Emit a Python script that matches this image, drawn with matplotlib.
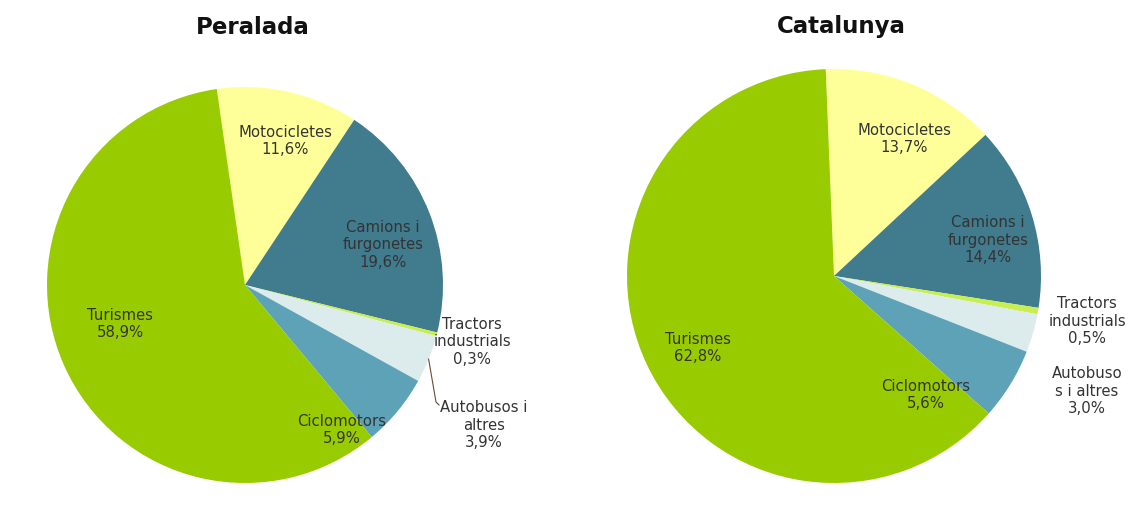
import matplotlib
matplotlib.use("Agg")
import matplotlib.pyplot as plt
import numpy as np

plt.rcParams['font.family'] = ['DejaVu Sans']

# ---- data ----
titles = ["Peralada", "Catalunya"]
categories = ["Motocicletes", "Camions i furgonetes", "Tractors industrials",
              "Autobusos i altres", "Ciclomotors", "Turismes"]
peralada = [11.6, 19.6, 0.3, 3.9, 5.9, 58.9]
catalunya = [13.7, 14.4, 0.5, 3.0, 5.6, 62.8]
peralada_labels = ["Motocicletes\n11,6%", "Camions i\nfurgonetes\n19,6%",
                   "Tractors\nindustrials\n0,3%", "Autobusos i\naltres\n3,9%",
                   "Ciclomotors\n5,9%", "Turismes\n58,9%"]
catalunya_labels = ["Motocicletes\n13,7%", "Camions i\nfurgonetes\n14,4%",
                    "Tractors\nindustrials\n0,5%", "Autobuso\ns i altres\n3,0%",
                    "Ciclomotors\n5,6%", "Turismes\n62,8%"]

# ---- style / layout ----
colors = ["#FFFF99", "#407B8E", "#C8EE50", "#DCEBEB", "#5DA2B6", "#99CC00"]
W, H = 1132, 515
pies = [
    dict(cx=245, cy=285, r=198, start=98.2, title_x=253),
    dict(cx=834, cy=276, r=207, start=92.3, title_x=841),
]
label_px = [
    [(285, 141), (383, 245), (472, 342), (484, 425), (342, 430), (120, 324)],
    [(904, 139), (988, 240), (1087, 321), (1087, 391), (926, 395), (698, 348)],
]

fig = plt.figure(figsize=(W / 100, H / 100), dpi=100)
fig.patch.set_facecolor("white")

datasets = [peralada, catalunya]
labelsets = [peralada_labels, catalunya_labels]

for i, p in enumerate(pies):
    cx, cy, r = p["cx"], p["cy"], p["r"]
    ax = fig.add_axes([0, 0, 1, 1])
    wedges, _ = ax.pie(datasets[i], colors=colors, startangle=p["start"],
                       counterclock=False, radius=1.0, center=(0, 0),
                       wedgeprops=dict(linewidth=0), frame=True)
    ax.set_aspect("auto")
    ax.set_xlim((0 - cx) / r, (W - cx) / r)
    ax.set_ylim((cy - H) / r, (cy - 0) / r)
    ax.axis("off")

    for j, (lx, ly) in enumerate(label_px[i]):
        ax.text((lx - cx) / r, (cy - ly) / r, labelsets[i][j],
                ha="center", va="center", fontsize=10.7, color="#333333",
                linespacing=1.2)

    if i == 0:
        w = wedges[3]
        mid = np.deg2rad((w.theta1 + w.theta2) / 2)
        x0, y0 = np.cos(mid), np.sin(mid)
        x1, y1 = (436 - cx) / r, (cy - 402) / r
        x2, y2 = (439 - cx) / r, (cy - 405) / r
        ax.plot([x0, x1, x2], [y0, y1, y2], color="#6b4a3a", lw=0.8)

    fig.text(p["title_x"] / W, 1 - 27 / H, titles[i], ha="center", va="center",
             fontsize=16.5, fontweight="bold", color="#111111")

fig.savefig("out.png", dpi=100, facecolor="white")
